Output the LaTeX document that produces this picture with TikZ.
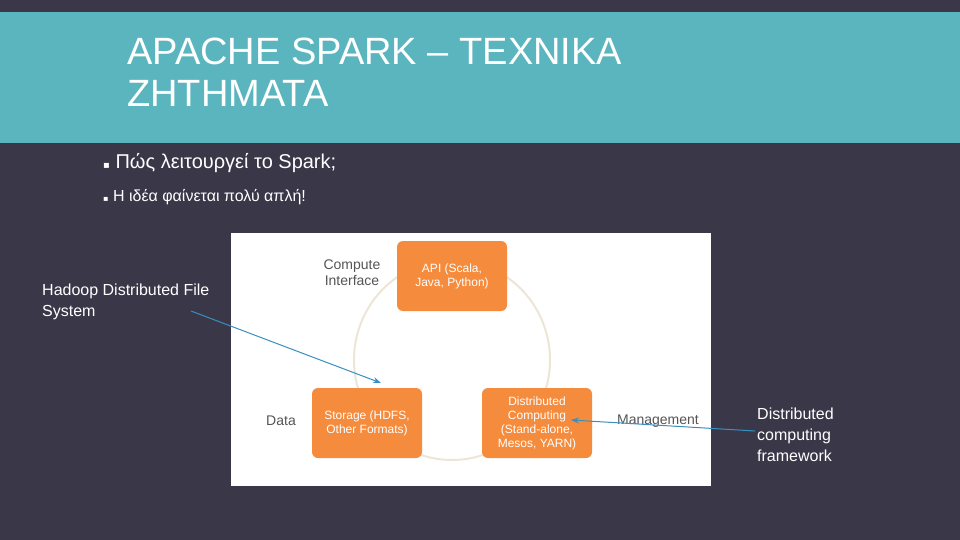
\documentclass[tikz,border=0pt]{standalone}
\usepackage{fontspec}
\setmainfont{Liberation Sans}
\newfontfamily\djvfont{DejaVu Sans}
\definecolor{bg}{HTML}{3A3748}
\definecolor{teal}{HTML}{5BB5BF}
\definecolor{org}{HTML}{F58B3C}
\definecolor{arr}{HTML}{3A8FC0}
\definecolor{ring}{HTML}{EDE6D6}
\definecolor{lab}{HTML}{555555}
\usetikzlibrary{arrows.meta}
\tikzset{
 ob/.style={fill=org,rounded corners=6pt,minimum width=110pt,minimum height=70pt,text=white,font=\fontsize{12}{14}\selectfont,align=center,inner sep=2pt},
 gl/.style={text=lab,font=\fontsize{14}{16}\selectfont,align=center},
 wt/.style={text=white,font=\fontsize{16}{21}\selectfont,align=left,anchor=north west,inner sep=0pt},
 bl/.style={draw=arr,line width=1pt,-{Stealth[length=8pt,width=6pt]}}
}
\begin{document}
\begin{tikzpicture}[x=1pt,y=-1pt]
\useasboundingbox (0,0) rectangle (960,540);
\fill[bg] (0,0) rectangle (960,540);
\fill[teal] (0,12) rectangle (960,143);
\node[anchor=north west,inner sep=0pt,text=white,font=\fontsize{38}{42}\selectfont,align=left] (title) at (127,38) {APACHE SPARK -- ΤΕΧΝΙΚΑ\\ΖΗΤΗΜΑΤΑ};
\node[anchor=west,inner sep=0pt,text=white,font=\fontsize{20}{24}\selectfont] (b1) at (103,163) {{\djvfont\fontsize{10}{12}\selectfont ▪}\ Πώς λειτουργεί το Spark;};
\node[anchor=west,inner sep=0pt,text=white,font=\fontsize{16}{20}\selectfont] (b2) at (103,197) {{\djvfont\fontsize{8}{10}\selectfont ▪}\ Η ιδέα φαίνεται πολύ απλή!};
\fill[white] (231,233) rectangle (711,486);
\draw[ring,line width=2pt] (452,360) ellipse (98pt and 100pt);
\node[ob] (api) at (452,276) {API (Scala,\\Java, Python)};
\node[ob] (sto) at (367,423) {Storage (HDFS,\\Other Formats)};
\node[ob] (dc) at (537,423) {Distributed\\Computing\\(Stand-alone,\\Mesos, YARN)};
\node[gl] (ci) at (352,273) {Compute\\Interface};
\node[gl] (da) at (281,421) {Data};
\node[gl] (mg) at (658,421) {Management};
\node[wt] (hd) at (42,284) {Hadoop Distributed File\\System};
\node[wt] (dcf) at (757,408) {Distributed\\computing\\framework};
\coordinate (h1) at (191,311);
\coordinate (h2) at (381,383);
\coordinate (d1) at (755,431);
\coordinate (d2) at (571,420);
\draw[bl] (h1) -- (h2);
\draw[bl] (d1) -- (d2);
\end{tikzpicture}
\end{document}
